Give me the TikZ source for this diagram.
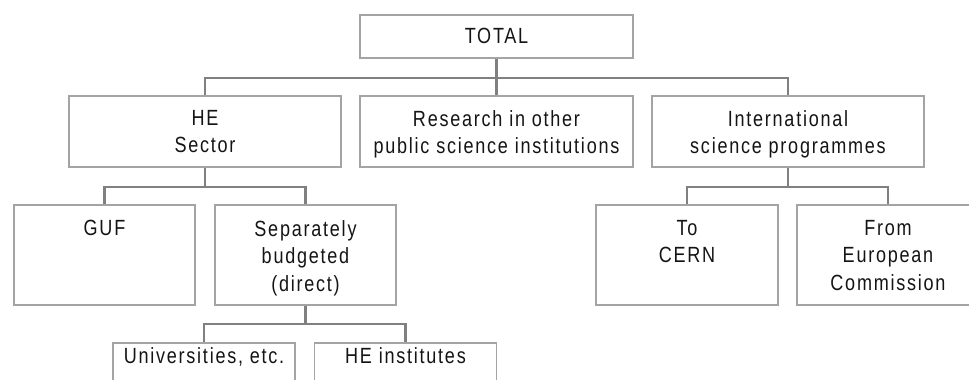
\documentclass[tikz,border=0pt]{standalone}
\usepackage{fontspec}
\setmainfont{Liberation Sans}[FakeStretch=0.82,LetterSpace=8]
\definecolor{boxgray}{HTML}{A4A4A4}
\definecolor{conngray}{HTML}{808080}
\definecolor{inkgray}{HTML}{141414}
\begin{document}
\begin{tikzpicture}[x=1pt,y=-1pt,
  box/.style={draw=boxgray, line width=1.8pt, inner sep=0pt, minimum width=#1},
  lbl/.style={anchor=north, inner sep=0pt, align=center, text=inkgray,
              font=\fontsize{22}{27.5}\selectfont},
  conn/.style={draw=conngray, line width=2.4pt}]
\useasboundingbox (0,0) rectangle (969,380);
\clip (0,0) rectangle (969,380);

% --- level 0
\node[box=273pt, minimum height=43pt] (total) at (496.5,36.5) {};
% --- level 1
\node[box=272pt, minimum height=71pt] (he)   at (205,131.5) {};
\node[box=273pt, minimum height=71pt] (res)  at (496.5,131.5) {};
\node[box=272pt, minimum height=71pt] (intl) at (788,131.5) {};
% --- level 2
\node[box=181pt, minimum height=100pt] (guf)  at (104.5,255) {};
\node[box=181pt, minimum height=100pt] (sep)  at (305.5,255) {};
\node[box=182pt, minimum height=100pt] (cern) at (687,255) {};
\node[box=182pt, minimum height=100pt] (ec)   at (888,255) {};
% --- level 3 (runs past the lower edge)
\node[box=182pt, minimum height=80pt] (univ) at (204,383) {};
\node[box=182pt, minimum height=80pt] (hei)  at (405.5,383) {};

% --- labels
\node[lbl] (total-t) at (496.5,28) {TOTAL};
\node[lbl] (he-t)    at (205,110) {HE\\Sector};
\node[lbl] (res-t)   at (496.5,110) {Research in other\\public science institutions};
\node[lbl] (intl-t)  at (788,110) {International\\science programmes};
\node[lbl] (guf-t)   at (104.5,220) {GUF};
\node[lbl] (sep-t)   at (305.5,220) {Separately\\budgeted\\(direct)};
\node[lbl] (cern-t)  at (687,220) {To\\CERN};
\node[lbl] (ec-t)    at (888,220) {From\\European\\Commission};
\node[lbl] (univ-t)  at (204,347) {Universities, etc.};
\node[lbl] (hei-t)   at (405.5,347) {HE institutes};

% --- connector rails
\coordinate (rail1) at (0,78);
\coordinate (rail2) at (0,187);
\coordinate (rail3) at (0,324);

\draw[conn] (total.south) -- (res.north);
\draw[conn] (he.north) -- (he.north |- rail1) -- (intl.north |- rail1) -- (intl.north);

\draw[conn] (he.south) -- (he.south |- rail2);
\draw[conn] (guf.north) -- (guf.north |- rail2) -- (sep.north |- rail2) -- (sep.north);

\draw[conn] (intl.south) -- (intl.south |- rail2);
\draw[conn] (cern.north) -- (cern.north |- rail2) -- (ec.north |- rail2) -- (ec.north);

\draw[conn] (sep.south) -- (sep.south |- rail3);
\draw[conn] (univ.north) -- (univ.north |- rail3) -- (hei.north |- rail3) -- (hei.north);
\end{tikzpicture}
\end{document}
